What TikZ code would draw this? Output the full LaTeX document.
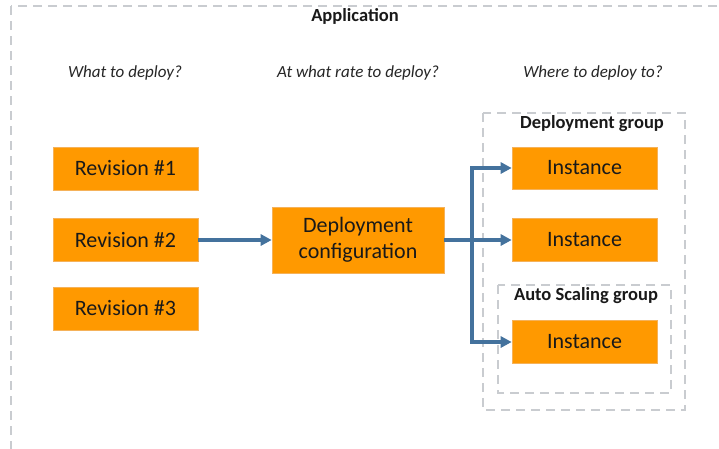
\documentclass[tikz,border=0pt]{standalone}
\usepackage{fontspec}
\setmainfont{Carlito}
\usetikzlibrary{arrows.meta}
\definecolor{boxorange}{HTML}{FF9900}
\definecolor{boxedge}{HTML}{F5B25A}
\definecolor{flowblue}{HTML}{44729D}
\definecolor{groupgray}{HTML}{C9CCD0}
\tikzset{
  x=1pt, y=1pt,
  block/.style={draw=boxedge, line width=0.6pt, fill=boxorange, inner sep=0pt,
    font=\fontsize{22}{26}\selectfont, text=black!90, align=center},
  group/.style={draw=groupgray, line width=1.4pt, dash pattern=on 9pt off 6pt},
  grouplabel/.style={font=\bfseries\fontsize{18.5}{20}\selectfont, text=black!90},
  question/.style={font=\itshape\fontsize{17}{19}\selectfont, text=black!85},
  flow/.style={draw=flowblue, line width=3.2pt,
    -{Triangle[length=11pt, width=11pt]}},
}
\begin{document}
\begin{tikzpicture}
\useasboundingbox (0,0) rectangle (719,-448);
\clip (0,0) rectangle (719,-448);
\fill[white] (0,0) rectangle (719,-448);

% Application frame (runs past the right and bottom edges)
\draw[group] (11,-6) rectangle (740,-470);
\node[grouplabel] (app) at (355,-16) {Application};

% Column questions
\node[question] (q1) at (125,-73) {What to deploy?};
\node[question] (q2) at (358,-73) {At what rate to deploy?};
\node[question] (q3) at (593,-73) {Where to deploy to?};

% Deployment group and nested Auto Scaling group
\draw[group] (483,-113) rectangle (685,-410);
\node[grouplabel] (dg) at (592,-124) {Deployment group};
\draw[group] (498,-285) rectangle (671,-393);
\node[grouplabel] (asg) at (586,-296) {Auto Scaling group};

% Revisions
\node[block, minimum width=145pt, minimum height=43pt] (r1) at (125.5,-168.5) {Revision \#1};
\node[block, minimum width=145pt, minimum height=43pt] (r2) at (125.5,-240) {Revision \#2};
\node[block, minimum width=145pt, minimum height=43pt] (r3) at (125.5,-308.5) {Revision \#3};

% Deployment configuration
\node[block, minimum width=172pt, minimum height=66pt] (cfg) at (358,-240)
  {Deployment\\configuration};

% Instances
\node[block, minimum width=145pt, minimum height=42pt] (i1) at (584.5,-168) {Instance};
\node[block, minimum width=145pt, minimum height=43pt] (i2) at (584.5,-240) {Instance};
\node[block, minimum width=145pt, minimum height=43pt] (i3) at (584.5,-342) {Instance};

% Flow
\draw[flow] (r2.east) -- (cfg.west);
\draw[flow] (cfg.east) -- (i2.west);
\coordinate (fork) at (472,-240);
\draw[flow] (fork) |- (i1.west);
\draw[flow] (fork) |- (i3.west);
\end{tikzpicture}
\end{document}
